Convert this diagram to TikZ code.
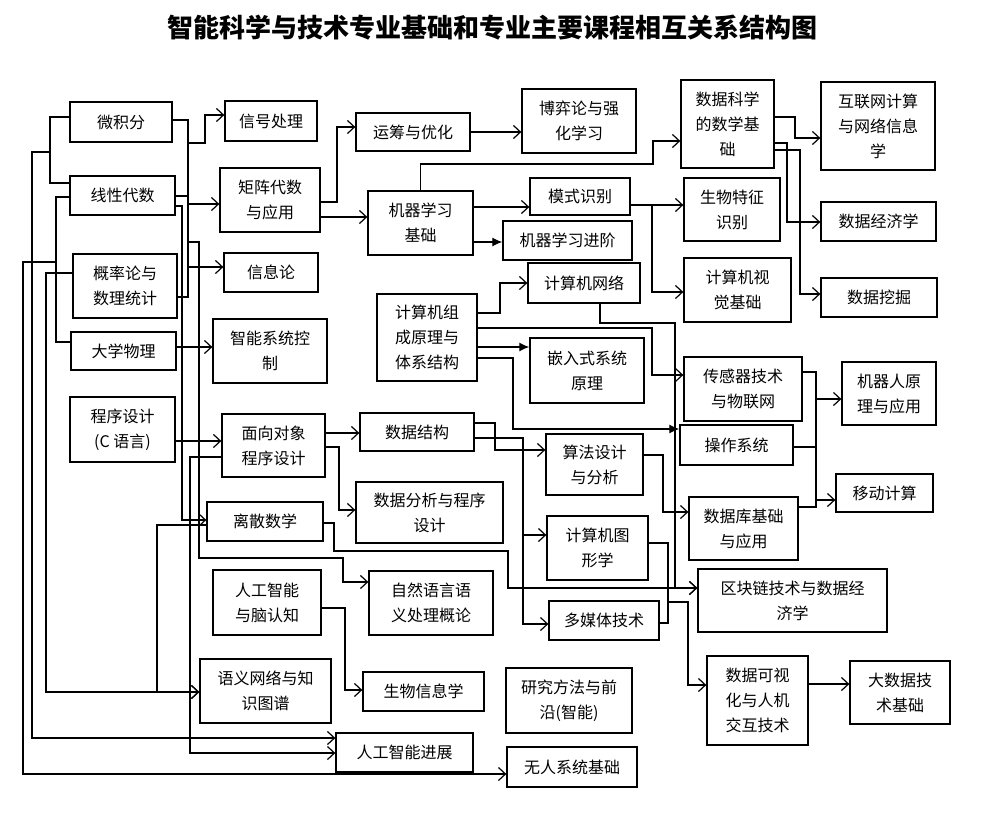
\documentclass[tikz,border=0pt]{standalone}
\usepackage{fontspec}
\setmainfont{Noto Sans CJK SC}
\usetikzlibrary{arrows.meta}
\tikzset{
  box/.style={draw, line width=1.3pt, inner sep=0pt, align=center, font=\fontsize{16}{25}\selectfont},
  ln/.style={draw, line width=1.2pt},
  arr/.style={ln, -{Straight Barb[length=7pt,width=13pt]}},
  farr/.style={ln, -{Latex[length=10pt,width=9pt]}}
}
\newcommand\bx[6]{\node[box, minimum width={(#4-#2)*1pt}, minimum height={(#5-#3)*1pt}] (#1) at ({(#2+#4)/2},{(#3+#5)/2}) {#6};}
\begin{document}
\begin{tikzpicture}[x=1pt,y=-1pt]
\fill[white] (0,0) rectangle (987,824);
\useasboundingbox (0,0) rectangle (987,824);
\node[font=\bfseries\fontsize{26}{26}\selectfont] (title) at (492,28) {智能科学与技术专业基础和专业主要课程相互关系结构图};
% left column
\bx{wjf}{70}{102}{172}{142}{微积分}
\bx{xxds}{70}{176}{175}{215}{线性代数}
\bx{gll}{73}{254}{177}{318}{概率论与\\数理统计}
\bx{dxwl}{71}{332}{176}{370}{大学物理}
\bx{cxsj}{70}{397}{175}{462}{程序设计\\(C 语言)}
% second column
\bx{xhcl}{225}{101}{317}{141}{信号处理}
\bx{jzds}{220}{168}{320}{232}{矩阵代数\\与应用}
\bx{xxl}{224}{253}{318}{292}{信息论}
\bx{znxt}{213}{319}{327}{383}{智能系统控\\制}
\bx{mxdx}{222}{414}{325}{477}{面向对象\\程序设计}
\bx{lssx}{207}{502}{323}{541}{离散数学}
\bx{rgzn}{213}{570}{321}{635}{人工智能\\与脑认知}
\bx{yywl}{200}{659}{331}{723}{语义网络与知\\识图谱}
% third column
\bx{ycyh}{356}{113}{470}{151}{运筹与优化}
\bx{jqxx}{368}{191}{473}{255}{机器学习\\基础}
\bx{jszc}{377}{294}{477}{381}{计算机组\\成原理与\\体系结构}
\bx{sjjg}{360}{413}{474}{451}{数据结构}
\bx{sjfx}{356}{482}{503}{543}{数据分析与程序\\设计}
\bx{zryy}{369}{571}{493}{635}{自然语言语\\义处理概论}
\bx{swxx}{363}{672}{484}{711}{生物信息学}
\bx{rgjz}{336}{733}{473}{772}{人工智能进展}
% fourth column
\bx{byl}{522}{89}{636}{153}{博弈论与强\\化学习}
\bx{msbs}{530}{178}{630}{215}{模式识别}
\bx{jqjj}{503}{221}{632}{260}{机器学习进阶}
\bx{jsjwl}{528}{263}{640}{303}{计算机网络}
\bx{qrs}{530}{338}{644}{403}{嵌入式系统\\原理}
\bx{sfsj}{546}{434}{643}{495}{算法设计\\与分析}
\bx{txx}{547}{516}{648}{580}{计算机图\\形学}
\bx{dmt}{549}{601}{659}{640}{多媒体技术}
\bx{yjff}{506}{668}{632}{733}{研究方法与前\\沿(智能)}
\bx{wrxt}{507}{747}{637}{787}{无人系统基础}
% fifth column
\bx{sjkx}{681}{80}{774}{168}{数据科学\\的数学基\\础}
\bx{swtz}{684}{178}{780}{241}{生物特征\\识别}
\bx{jsjsj}{684}{258}{791}{322}{计算机视\\觉基础}
\bx{cgq}{684}{357}{802}{421}{传感器技术\\与物联网}
\bx{czxt}{680}{425}{793}{465}{操作系统}
\bx{sjk}{689}{497}{798}{560}{数据库基础\\与应用}
\bx{qkl}{698}{569}{887}{632}{区块链技术与数据经\\济学}
\bx{sjksh}{707}{656}{808}{745}{数据可视\\化与人机\\交互技术}
% sixth column
\bx{hlw}{821}{82}{935}{170}{互联网计算\\与网络信息\\学}
\bx{sjjj}{821}{202}{936}{241}{数据经济学}
\bx{sjwj}{821}{278}{937}{317}{数据挖掘}
\bx{jqr}{842}{362}{936}{425}{机器人原\\理与应用}
\bx{ydjs}{836}{474}{933}{512}{移动计算}
\bx{dsj}{850}{661}{950}{724}{大数据技\\术基础}

% ---- left buses ----
\draw[ln] (wjf.west |- 0,117) -- (50,117) -- (50,183) -- (xxds.west |- 0,183);
\draw[arr] (50,152) -- (32,152) -- (32,738) -- (rgjz.west |- 0,738);
\draw[ln] (xxds.west |- 0,197) -- (56,197) -- (56,342) -- (dxwl.west |- 0,342);
\draw[arr] (56,262) -- (23,262) -- (23,774) -- (wrxt.west |- 0,774);
\draw[arr] (gll.west |- 0,273) -- (46,273) -- (46,692) -- (yywl.west |- 0,692);
% ---- right bus of left column ----
\draw[ln] (wjf.east |- 0,120) -- (188,120) -- (188,297) -- (gll.east |- 0,297);
\draw[ln] (xxds.east |- 0,196) -- (188,196);
\draw[arr] (188,143) -- (205,143) -- (205,115) -- (xhcl.west |- 0,115);
\draw[arr] (188,204) -- (jzds.west |- 0,204);
\draw[arr] (188,267) -- (xxl.west |- 0,267);
\draw[arr] (188,242) -- (199,242) -- (199,558) -- (343,558) -- (343,582) -- (zryy.west |- 0,582);
\draw[arr] (xxds.east |- 0,206) -- (182,206) -- (182,520) -- (lssx.west |- 0,520);
\draw[arr] (lssx.west |- 0,525) -- (157,525) -- (157,692) -- (yywl.west |- 0,692);
\draw[arr] (mxdx.west |- 0,457) -- (190,457) -- (190,753) -- (rgjz.west |- 0,753);
\draw[arr] (dxwl.east |- 0,347) -- (znxt.west |- 0,347);
\draw[arr] (cxsj.east |- 0,441) -- (mxdx.west |- 0,441);
% ---- middle ----
\draw[arr] (jzds.east |- 0,202) -- (337,202) -- (337,127) -- (ycyh.west |- 0,127);
\draw[arr] (jzds.east |- 0,217) -- (jqxx.west |- 0,217);
\draw[arr] (ycyh.east |- 0,132) -- (byl.west |- 0,132);
\draw[arr] (jqxx.north) -- (jqxx.north |- 0,164) -- (653,164) -- (653,141) -- (sjkx.west |- 0,141);
\draw[arr] (jqxx.east |- 0,207) -- (msbs.west |- 0,207);
\draw[farr] (jqxx.east |- 0,242) -- (jqjj.west |- 0,242);
\draw[arr] (msbs.east |- 0,205) -- (swtz.west |- 0,205);
\draw[arr] (652,205) -- (652,292) -- (jsjsj.west |- 0,292);
\draw[arr] (sjkx.east |- 0,117) -- (795,117) -- (795,138) -- (hlw.west |- 0,138);
\draw[arr] (sjkx.east |- 0,143) -- (787,143) -- (787,222) -- (sjjj.west |- 0,222);
\draw[arr] (sjkx.east |- 0,150) -- (800,150) -- (800,294) -- (sjwj.west |- 0,294);
\draw[arr] (jszc.east |- 0,313) -- (500,313) -- (500,283) -- (jsjwl.west |- 0,283);
\draw[arr] (jszc.east |- 0,328) -- (652,328) -- (652,375) -- (cgq.west |- 0,375);
\draw[farr] (jszc.east |- 0,347) -- (qrs.west |- 0,347);
\draw[farr] (jszc.east |- 0,358) -- (513,358) -- (513,429) -- (czxt.west |- 0,429);
\draw[arr] (jsjwl.south -| 600,0) -- (600,323) -- (675,323) -- (675,588) -- (qkl.west |- 0,588);
\draw[arr] (sfsj.east |- 0,455) -- (663,455) -- (663,512) -- (sjk.west |- 0,512);
\draw[arr] (mxdx.east |- 0,433) -- (sjjg.west |- 0,433);
\draw[arr] (mxdx.east |- 0,447) -- (339,447) -- (339,510) -- (sjfx.west |- 0,510);
\draw[arr] (sjjg.east |- 0,423) -- (495,423) -- (495,450) -- (sfsj.west |- 0,450);
\draw[arr] (sjjg.east |- 0,438) -- (523,438) -- (523,624) -- (dmt.west |- 0,624);
\draw[arr] (523,535) -- (txx.west |- 0,535);
\draw[arr] (lssx.east |- 0,523) -- (334,523) -- (334,551) -- (508,551) -- (508,588) -- (qkl.west |- 0,588);
\draw[ln] (txx.east |- 0,543) -- (668,543) -- (668,623) -- (dmt.east |- 0,623);
\draw[arr] (668,602) -- (688,602) -- (688,685) -- (sjksh.west |- 0,685);
\draw[arr] (sjksh.east |- 0,684) -- (dsj.west |- 0,684);
\draw[ln] (cgq.east |- 0,372) -- (816,372) -- (816,507) -- (sjk.east |- 0,507);
\draw[ln] (czxt.east |- 0,447) -- (816,447);
\draw[arr] (816,399) -- (jqr.west |- 0,399);
\draw[arr] (816,500) -- (ydjs.west |- 0,500);
\draw[arr] (rgzn.east |- 0,608) -- (345,608) -- (345,690) -- (swxx.west |- 0,690);
\end{tikzpicture}
\end{document}
